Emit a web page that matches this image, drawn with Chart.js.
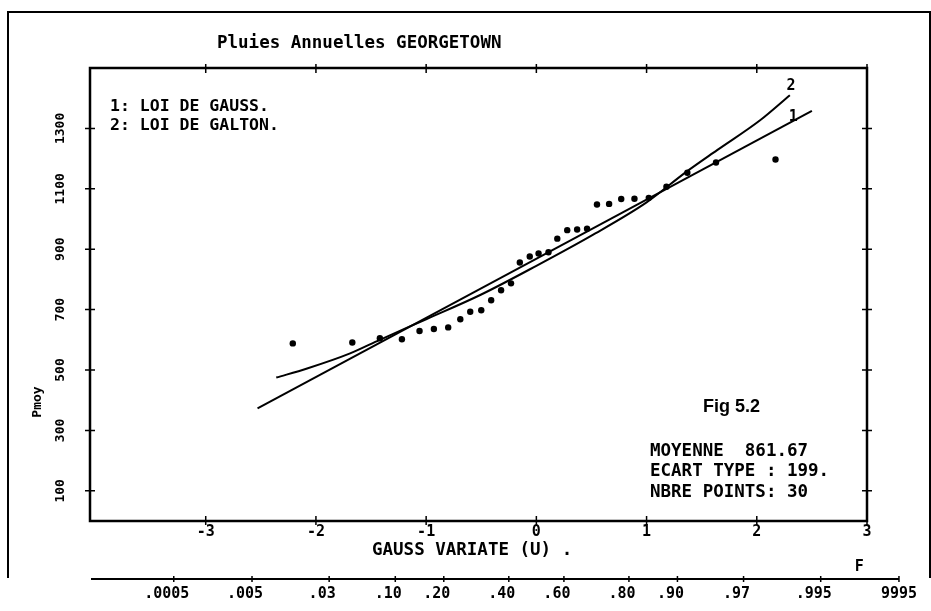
<!DOCTYPE html>
<html>
<head>
<meta charset="utf-8">
<script src="https://cdn.jsdelivr.net/npm/chart.js@4"></script>
<style>
  html, body { margin: 0; padding: 0; background: #fff; }
  #wrap { width: 931px; height: 611px; position: relative; }
</style>
</head>
<body>
<div id="wrap"><canvas id="chart"></canvas></div>
<script>
// observed annual rainfall, plotted against the gauss variate u
const obsU = [-2.21, -1.67, -1.42, -1.22, -1.06, -0.93, -0.80, -0.69, -0.60, -0.50,
              -0.41, -0.32, -0.23, -0.15, -0.06, 0.02, 0.11, 0.19, 0.28, 0.37,
              0.46, 0.55, 0.66, 0.77, 0.89, 1.02, 1.18, 1.37, 1.63, 2.17];
const obsP = [588, 591, 605, 602, 629, 636, 641, 668, 693, 698,
              731, 764, 787, 856, 876, 886, 890, 935, 963, 965,
              968, 1048, 1050, 1066, 1067, 1070, 1107, 1153, 1187, 1197];

// fitted laws
const gaussU = [-2.53, 2.5];
const gaussP = [373, 1358];
const galtonU = [-2.36, -2.08, -1.69, -1.42, -1.0, -0.5, 0, 0.5, 1.0, 1.36, 1.64, 2.03, 2.3];
const galtonP = [475, 505, 555, 600, 668, 750, 845, 945, 1055, 1156, 1228, 1327, 1410];

// axes
const xTicks = [-3, -2, -1, 0, 1, 2, 3];
const yTicks = [100, 300, 500, 700, 900, 1100, 1300];
const fLabels = [".0005", ".005", ".03", ".10", ".20", ".40", ".60", ".80", ".90", ".97", ".995", "9995"];
const fU = [-3.29, -2.58, -1.88, -1.28, -0.84, -0.25, 0.25, 0.84, 1.28, 1.88, 2.58, 3.29];

const titleText = "Pluies Annuelles GEORGETOWN";
const legendLines = ["1: LOI DE GAUSS.", "2: LOI DE GALTON."];
const statLines = ["MOYENNE  861.67", "ECART TYPE : 199.", "NBRE POINTS: 30"];

const MONO = '"DejaVu Sans Mono", monospace';

const toPts = (us, ps) => us.map((u, i) => ({ x: u, y: ps[i] }));

function txt(ctx, s, x, y, size, align, font) {
  ctx.font = "bold " + size + "px " + (font || MONO);
  ctx.textAlign = align || "left";
  ctx.textBaseline = "middle";
  ctx.fillText(s, x, y);
}

// plotter look: frame, cross ticks, annotations, probability scale
const plotter = {
  id: "plotter",
  afterDraw(chart) {
    const ctx = chart.ctx;
    const { left, right, top, bottom } = chart.chartArea;
    const xs = chart.scales.x, ys = chart.scales.y;
    ctx.save();
    ctx.strokeStyle = "#000";
    ctx.fillStyle = "#000";

    // outer frame
    ctx.lineWidth = 2;
    ctx.beginPath();
    ctx.moveTo(8, 578); ctx.lineTo(8, 12); ctx.lineTo(930, 12); ctx.lineTo(930, 578);
    ctx.stroke();

    // plot frame
    ctx.lineWidth = 2.5;
    ctx.strokeRect(left, top, right - left, bottom - top);

    // cross ticks
    ctx.lineWidth = 1.5;
    ctx.beginPath();
    yTicks.forEach(v => {
      const y = ys.getPixelForValue(v);
      ctx.moveTo(left - 5, y); ctx.lineTo(left + 5, y);
      ctx.moveTo(right - 5, y); ctx.lineTo(right + 5, y);
    });
    xTicks.forEach(v => {
      const x = xs.getPixelForValue(v);
      ctx.moveTo(x, bottom - 5); ctx.lineTo(x, bottom + 4);
      ctx.moveTo(x, top - 4); ctx.lineTo(x, top + 5);
    });
    ctx.stroke();

    // title + legend
    txt(ctx, titleText, 217, 43, 17.5);
    txt(ctx, legendLines[0], 110, 107, 16.5);
    txt(ctx, legendLines[1], 110, 126, 16.5);

    // curve labels
    txt(ctx, "2", xs.getPixelForValue(2.31), ys.getPixelForValue(1440), 15, "center");
    txt(ctx, "1", xs.getPixelForValue(2.33), ys.getPixelForValue(1337), 15, "center");

    // figure note and stats
    txt(ctx, "Fig 5.2", 703, 407, 18, "left", '"Liberation Sans", Arial, sans-serif');
    statLines.forEach((s, i) => txt(ctx, s, 650, 451 + i * 20.5, 17.5));

    // axis titles
    txt(ctx, "GAUSS VARIATE (U) .", 372, 550, 17.5);
    ctx.save();
    ctx.translate(38, 402);
    ctx.rotate(-Math.PI / 2);
    txt(ctx, "Pmoy", 0, 0, 13, "center");
    ctx.restore();

    // probability scale F
    const fy = 579;
    ctx.lineWidth = 2;
    ctx.beginPath();
    ctx.moveTo(left + 1, fy);
    ctx.lineTo(xs.getPixelForValue(fU[fU.length - 1]), fy);
    ctx.stroke();
    ctx.lineWidth = 1.5;
    ctx.beginPath();
    fU.forEach(u => {
      const x = xs.getPixelForValue(u);
      ctx.moveTo(x, fy - 3); ctx.lineTo(x, fy + 3);
    });
    ctx.stroke();
    fLabels.forEach((s, i) => {
      const x = xs.getPixelForValue(fU[i]);
      const off = i === fLabels.length - 1 ? 0 : -7;
      txt(ctx, s, x + off, 594, 15, "center");
    });
    txt(ctx, "F", xs.getPixelForValue(2.93), 567, 15, "center");

    ctx.restore();
  }
};

new Chart(document.getElementById("chart"), {
  type: "scatter",
  data: {
    datasets: [
      {
        label: "Pmoy",
        data: toPts(obsU, obsP),
        showLine: false,
        pointRadius: 3.2,
        pointBackgroundColor: "#000",
        pointBorderColor: "#000",
        pointBorderWidth: 0
      },
      {
        label: legendLines[0],
        data: toPts(gaussU, gaussP),
        showLine: true,
        borderColor: "#000",
        borderWidth: 2,
        pointRadius: 0
      },
      {
        label: legendLines[1],
        data: toPts(galtonU, galtonP),
        showLine: true,
        borderColor: "#000",
        borderWidth: 2,
        pointRadius: 0,
        cubicInterpolationMode: "monotone"
      }
    ]
  },
  options: {
    responsive: true,
    maintainAspectRatio: false,
    animation: false,
    layout: { padding: { top: 68, right: 64, left: 0, bottom: 0 } },
    plugins: { legend: { display: false }, tooltip: { enabled: false } },
    scales: {
      x: {
        type: "linear",
        min: -4.05,
        max: 3,
        grid: { display: false, drawTicks: false },
        border: { display: false },
        afterBuildTicks: s => { s.ticks = xTicks.map(v => ({ value: v })); },
        afterFit: s => { s.height = 90; },
        ticks: {
          color: "#000",
          padding: 2,
          font: { family: MONO, size: 15, weight: "bold" },
          callback: v => String(v)
        }
      },
      y: {
        type: "linear",
        min: 0,
        max: 1500,
        grid: { display: false, drawTicks: false },
        border: { display: false },
        afterBuildTicks: s => { s.ticks = yTicks.map(v => ({ value: v })); },
        afterFit: s => { s.width = 90; },
        ticks: {
          color: "#000",
          minRotation: 90,
          maxRotation: 90,
          crossAlign: "center",
          padding: 14,
          font: { family: MONO, size: 13, weight: "bold" },
          callback: v => String(v)
        }
      }
    }
  },
  plugins: [plotter]
});
</script>
</body>
</html>
